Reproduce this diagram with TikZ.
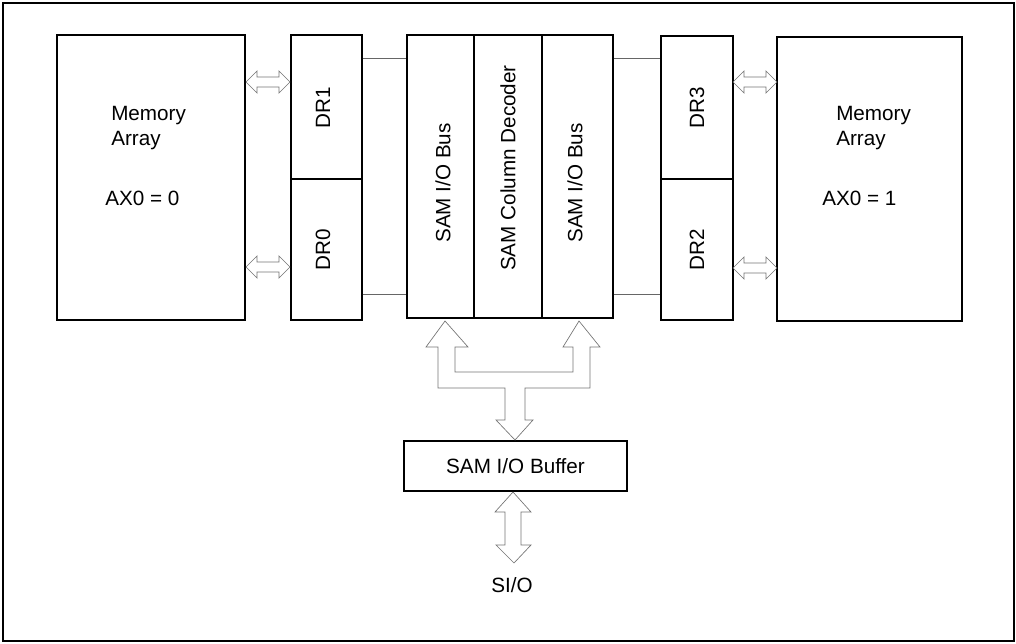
\documentclass[tikz,border=0pt]{standalone}
\usepackage{fontspec}
\setmainfont{Liberation Sans}
\usetikzlibrary{positioning}

\begin{document}
\begin{tikzpicture}[
    x=0.75pt, y=-0.75pt,
    every node/.style={font=\fontsize{15.5}{18.75}\selectfont, inner sep=0pt},
    blk/.style={draw, line width=1pt, rectangle, minimum width=#1*0.75pt},
    ht/.style={minimum height=#1*0.75pt},
    vtxt/.style={rotate=90},
    bus/.style={draw=black!55, line width=0.5pt, line join=miter},
    lnk/.style={draw=black!60, line width=0.6pt},
]
\useasboundingbox (0,0) rectangle (1016,643);
\draw[line width=1.5pt] (3,3) rectangle (1014,641);

% left half
\node[blk=188, ht=285] (memL) at (151,177.5) {};
\node[blk=71, ht=144] (dr1) at (326.5,107) {};
\node[blk=71, ht=141] (dr0) at (326.5,249.5) {};
\node[anchor=base west, align=left] (memLtxt) at (111,145) {Memory\\Array};
\node[anchor=base west] (axL) at (105,205) {AX0 = 0};
\node[vtxt] (dr1txt) at (323,108) {DR1};
\node[vtxt] (dr0txt) at (323,250) {DR0};

% centre block
\node[blk=67, ht=283] (busL) at (440.5,176.5) {};
\node[blk=68, ht=283] (dec) at (508,176.5) {};
\node[blk=71, ht=283] (busR) at (577.5,176.5) {};
\node[vtxt] (busLtxt) at (443,183) {SAM I/O Bus};
\node[vtxt] (dectxt) at (508,168) {SAM Column Decoder};
\node[vtxt] (busRtxt) at (575,183) {SAM I/O Bus};

% right half
\node[blk=72, ht=143] (dr3) at (697,107.5) {};
\node[blk=72, ht=141] (dr2) at (697,249.5) {};
\node[blk=185, ht=284] (memR) at (869.5,179) {};
\node[anchor=base west, align=left] (memRtxt) at (836,145) {Memory\\Array};
\node[anchor=base west] (axR) at (822,205) {AX0 = 1};
\node[vtxt] (dr3txt) at (697,108) {DR3};
\node[vtxt] (dr2txt) at (697,250) {DR2};

% buffer and pin
\node[blk=223, ht=50] (buf) at (515.5,466) {SAM I/O Buffer};
\node (sio) at (512,585) {SI/O};

% links DR <-> centre
\coordinate (yT) at (0,58);
\coordinate (yB) at (0,294);
\draw[lnk] (dr1.east |- yT) -- (busL.west |- yT);
\draw[lnk] (dr0.east |- yB) -- (busL.west |- yB);
\draw[lnk] (busR.east |- yT) -- (dr3.west |- yT);
\draw[lnk] (busR.east |- yB) -- (dr2.west |- yB);

% hollow double arrows memory <-> DR
\foreach \xa/\xb/\yy in {246/290/82, 246/290/267, 733/777/82, 733/777/268}
  \draw[bus] (\xa,\yy) -- (\xa+11,\yy-11) -- (\xa+11,\yy-5) -- (\xb-11,\yy-5)
    -- (\xb-11,\yy-11) -- (\xb,\yy) -- (\xb-11,\yy+11) -- (\xb-11,\yy+5)
    -- (\xa+11,\yy+5) -- (\xa+11,\yy+11) -- cycle;

% bus from I/O buses to buffer
\draw[bus] (445,321) -- (468,347) -- (455,347) -- (455,372) -- (573,372)
  -- (573,347) -- (563,347) -- (579,321) -- (600,347) -- (590,347) -- (590,388)
  -- (525,388) -- (525,420) -- (533,420) -- (515,440) -- (496,420) -- (505,420)
  -- (505,388) -- (438,388) -- (438,347) -- (426,347) -- cycle;

% buffer <-> SI/O
\draw[bus] (513,492) -- (531,512) -- (521,512) -- (521,545) -- (531,545)
  -- (514,563) -- (496,545) -- (505,545) -- (505,512) -- (495,512) -- cycle;
\end{tikzpicture}
\end{document}
